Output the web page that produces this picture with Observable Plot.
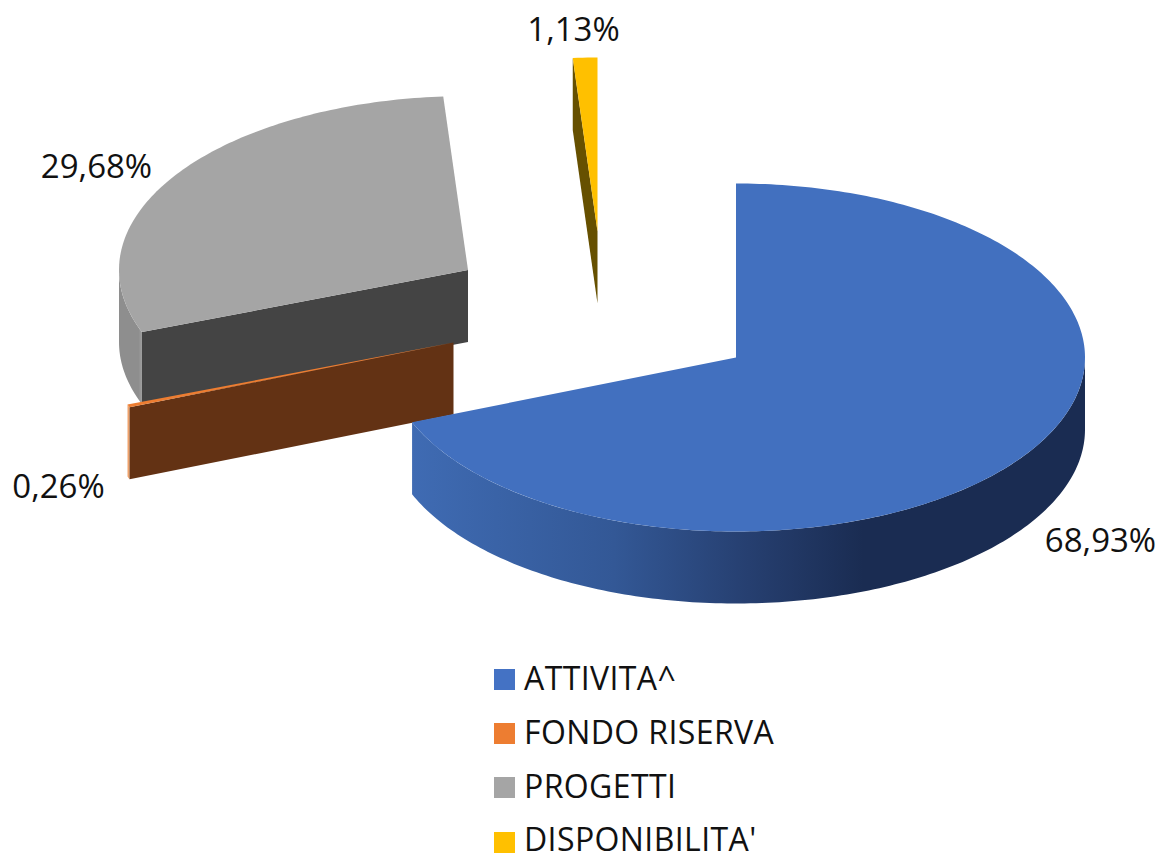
<!DOCTYPE html>
<html><head><meta charset="utf-8">
<script src="https://cdn.jsdelivr.net/npm/d3@7"></script>
<script src="https://cdn.jsdelivr.net/npm/@observablehq/plot@0.6"></script>
<style>
html,body{margin:0;padding:0;background:#fff;overflow:hidden;height:853px}
#chart{position:relative;width:1161px;height:853px;overflow:hidden;font-family:"Open Sans",sans-serif;color:#111}
#chart svg{display:block}
#legend{position:absolute;left:494px;top:651px}
.row{display:flex;align-items:center;height:54px;font-size:32px;letter-spacing:0.4px;line-height:28px;white-space:nowrap}
.sw{width:21px;height:21px;margin-right:9px;flex:none;position:relative;top:1px}
.row:last-child{height:40px;align-items:flex-start}
.row:last-child .sw{top:19px}
.row:last-child span:last-child{position:relative;top:12px}
</style></head>
<body><div id="chart"></div>
<script>
const categories = ["ATTIVITA^", "FONDO RISERVA", "PROGETTI", "DISPONIBILITA'"];
const shares = [68.93, 0.26, 29.68, 1.13];
const labels = ["68,93%", "0,26%", "29,68%", "1,13%"];
const topColors = ["#4270BF", "#ED7D31", "#A5A5A5", "#FFC000"];
const faceColors = ["#1B2D54", "#633214", "#444444", "#665000"];
const legendColors = ["#4472C4", "#ED7D31", "#A5A5A5", "#FFC000"];

// layout of the exploded 3D pie
const rx = 349, ry = 174, depth = 72;
const centers = [[735.5, 357], [453, 342], [467.5, 269.5], [597, 231]];
const labelAt = [[1100, 541], [58, 487], [96, 167], [573, 30]];
const total = d3.sum(shares);
let acc = 0;
const slices = categories.map((name, i) => {
  const a0 = acc / total * 2 * Math.PI;
  acc += shares[i];
  const a1 = acc / total * 2 * Math.PI;
  return {name, i, a0, a1, c: centers[i]};
});
const pt = (s, a, dz = 0) => ({x: s.c[0] + rx * Math.sin(a), y: s.c[1] - ry * Math.cos(a) + dz});
const arc = (s, a0, a1, dz = 0) => {
  const n = Math.max(2, Math.ceil(Math.abs(a1 - a0) * 60));
  return d3.range(n + 1).map(k => pt(s, a0 + (a1 - a0) * k / n, dz));
};
const centre = (s, dz = 0) => ({x: s.c[0], y: s.c[1] + dz});
const topFace = s => [centre(s), ...arc(s, s.a0, s.a1)];
const cutFace = (s, a) => [centre(s), pt(s, a), pt(s, a, depth), centre(s, depth)];
const rim = (s, a0, a1) => [...arc(s, a0, a1), ...arc(s, a1, a0, depth)];

const [blue, orange, gray, yellow] = slices;
const half = Math.PI / 2;
const polys = [
  [cutFace(yellow, yellow.a0), faceColors[3]],
  [topFace(yellow), topColors[3]],
  [rim(gray, gray.a0, 3 * half), "url(#graySide)"],
  [cutFace(gray, gray.a0), faceColors[2]],
  [topFace(gray), topColors[2]],
  [rim(orange, orange.a0, orange.a1), "#EFA26C"],
  [cutFace(orange, orange.a0), faceColors[1]],
  [topFace(orange), topColors[1]],
  [rim(blue, half, blue.a1), "url(#blueSide)"],
  [topFace(blue), topColors[0]]
];

const gradient = (defs, id, stops) => {
  const g = defs.append("linearGradient").attr("id", id);
  stops.forEach(([o, c]) => g.append("stop").attr("offset", o).attr("stop-color", c));
};
const defsMark = () => {
  const defs = d3.create("svg:defs");
  gradient(defs, "blueSide", [[0, "#3F6BB3"], [0.3, "#335896"], [0.5, "#263F70"], [0.67, "#1A2C52"], [1, "#1A2C52"]]);
  gradient(defs, "graySide", [[0, "#8E8E8E"], [0.85, "#8E8E8E"], [1, "#A0A0A0"]]);
  return defs.node();
};

const labelRows = labels.map((text, i) => ({text, x: labelAt[i][0], y: labelAt[i][1]}));

const plot = Plot.plot({
  width: 1161, height: 640,
  margin: 0,
  x: {domain: [0, 1161], range: [0, 1161], axis: null},
  y: {domain: [0, 640], range: [0, 640], axis: null},
  style: {background: "transparent"},
  marks: [
    defsMark,
    ...polys.map(([pts, fill]) => Plot.line(pts, {x: "x", y: "y", fill, stroke: "none", curve: "linear-closed"})),
    Plot.text(labelRows, {x: "x", y: "y", text: "text", fontSize: 33, fill: "#111", fontFamily: "Open Sans", textAnchor: "middle"})
  ]
});
const chart = document.getElementById("chart");
chart.appendChild(plot);
const legend = document.createElement("div");
legend.id = "legend";
categories.forEach((name, i) => {
  const r = document.createElement("div");
  r.className = "row";
  r.innerHTML = `<span class="sw" style="background:${legendColors[i]}"></span><span></span>`;
  r.lastChild.textContent = name;
  legend.appendChild(r);
});
chart.appendChild(legend);
</script></body></html>
